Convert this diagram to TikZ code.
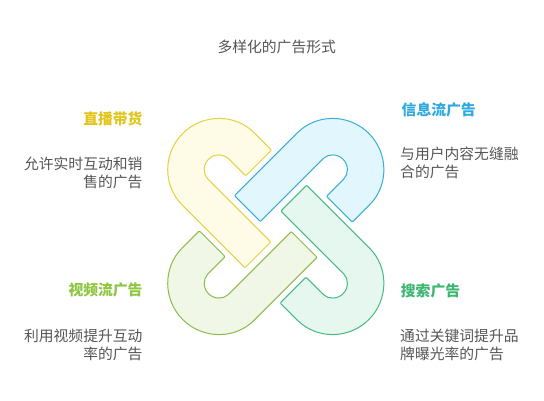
\documentclass[tikz,border=0pt]{standalone}
\usepackage{fontspec}
\newfontfamily\cjk{Noto Sans CJK SC}
\usetikzlibrary{positioning}
\definecolor{lineYellow}{HTML}{E4D044}
\definecolor{fillYellow}{HTML}{FEFCE6}
\definecolor{headYellow}{HTML}{E1C41C}
\definecolor{lineBlue}{HTML}{37ADD8}
\definecolor{fillBlue}{HTML}{E2F7FD}
\definecolor{headBlue}{HTML}{2FA9E0}
\definecolor{lineLime}{HTML}{8CBB4C}
\definecolor{fillLime}{HTML}{F1F7E6}
\definecolor{headLime}{HTML}{8DC63F}
\definecolor{lineTeal}{HTML}{45B983}
\definecolor{fillTeal}{HTML}{E5F7EE}
\definecolor{headTeal}{HTML}{3DB671}
\definecolor{textGray}{HTML}{555555}
\tikzset{
  hook/.pic={
    \path[pic actions, shift={(-57,57)}, rotate=-45]
      (23.5,51) -- (0,51) arc[start angle=90, end angle=270, radius=51]
      -- (88,-51) -- (88,-14.5) -- (0,-14.5)
      arc[start angle=270, end angle=90, radius=14.5] -- (23.5,14.5) -- cycle;
  },
  link/.style={line width=1pt, rounded corners=1pt},
  heading/.style={font=\cjk\bfseries\fontsize{14.8}{18}\selectfont, inner sep=0pt},
  note/.style={font=\cjk\fontsize{14.8}{18}\selectfont, text=textGray, inner sep=0pt},
}
\begin{document}
\begin{tikzpicture}[x=1pt, y=1pt]
            \useasboundingbox (0,0) rectangle (544,400);
            \coordinate (knot) at (275.8,173.5);
            \pic[link, draw=lineYellow, fill=fillYellow]             at (knot) {hook};
            \pic[link, draw=lineBlue,   fill=fillBlue,  rotate=-90]  at (knot) {hook};
            \pic[link, draw=lineTeal,   fill=fillTeal,  rotate=-180] at (knot) {hook};
            \pic[link, draw=lineLime,   fill=fillLime,  rotate=90]   at (knot) {hook};

            \node[note] (title) at (276.7,353.5) {多样化的广告形式};

            \node[heading, text=headYellow, anchor=east] (live)   at (142.7,281)   {直播带货};
            \node[note, align=right, anchor=east]        (liveN)  at (142.7,227)   {允许实时互动和销\\售的广告};
            \node[heading, text=headBlue, anchor=west]   (feed)   at (401.5,290)   {信息流广告};
            \node[note, align=left, anchor=west]         (feedN)  at (400,237.5)   {与用户内容无缝融\\合的广告};
            \node[heading, text=headLime, anchor=east]   (video)  at (142.7,110)   {视频流广告};
            \node[note, align=right, anchor=east]        (videoN) at (142.7,55)    {利用视频提升互动\\率的广告};
            \node[heading, text=headTeal, anchor=west]   (search) at (400.7,109)   {搜索广告};
            \node[note, align=left, anchor=west]         (searchN) at (400,55)     {通过关键词提升品\\牌曝光率的广告};
        \end{tikzpicture}
\end{document}
